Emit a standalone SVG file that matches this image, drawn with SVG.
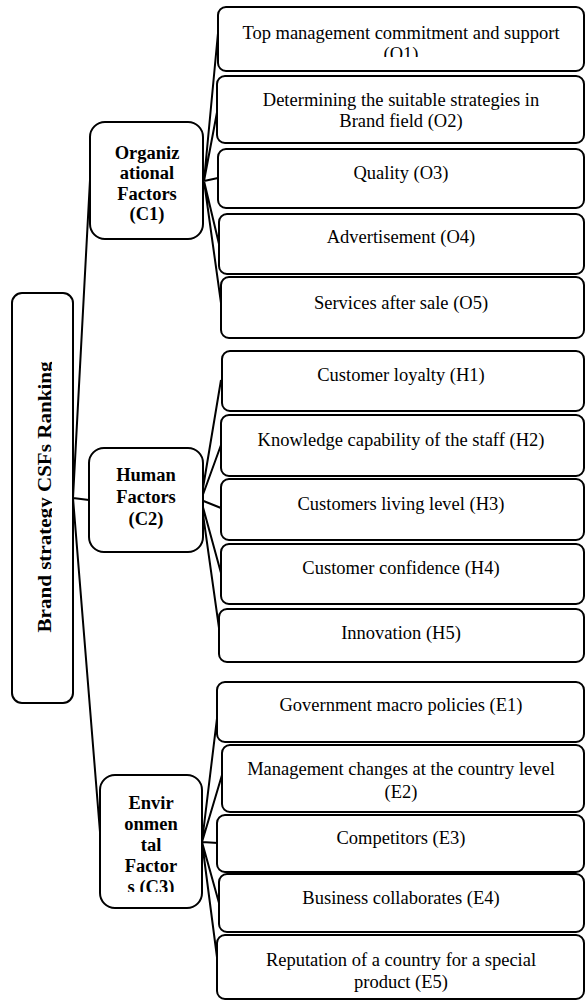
<svg xmlns="http://www.w3.org/2000/svg" width="586" height="1001" viewBox="0 0 586 1001">
<style>
.box{fill:#fff;stroke:#000;stroke-width:2}
.t{font-family:"Liberation Serif","Times New Roman",serif;font-size:18.5px;text-anchor:middle;fill:#000}
.b{font-weight:bold}
.c{stroke:#000;stroke-width:2;fill:none}
</style>
<defs>
<clipPath id="clipRoot"><rect x="30" y="290" width="22" height="420"/></clipPath>
<clipPath id="clipO1"><rect x="218" y="7" width="366" height="50"/></clipPath>
<clipPath id="clipC3"><rect x="100" y="775" width="102" height="117"/></clipPath>
</defs>
<rect width="586" height="1001" fill="#fff"/>
<g id="connectors">
<path class="c" d="M73,498 L90,180 M73,498 L89,500 M73,498 L100,832"/>
<path class="c" d="M204,181 L218,33 M204,181 L218,107 M204,181 L218,178 M204,181 L219,244 M204,181 L221,303"/>
<path class="c" d="M201,500 L221,380 M201,500 L221,445 M201,500 L221,508 M201,500 L221,573 M201,500 L220,635"/>
<path class="c" d="M202,842 L218,710 M202,842 L222,775 M202,842 L218,843 M202,842 L219,903 M202,842 L218,965"/>
</g>
<g id="root">
<rect class="box" x="12" y="293" width="61" height="410" rx="10"/>
<g clip-path="url(#clipRoot)">
<text class="t b" font-size="19.5" transform="translate(50.5,497) rotate(-90)" x="0" y="0" textLength="271" lengthAdjust="spacingAndGlyphs">Brand strategy CSFs Ranking</text>
</g>
</g>
<g id="C1">
<rect class="box" x="90" y="122" width="113" height="117" rx="15"/>
<text class="t b" x="147" y="159">Organiz</text>
<text class="t b" x="147" y="179">ational</text>
<text class="t b" x="147" y="200">Factors</text>
<text class="t b" x="147" y="220">(C1)</text>
</g>
<g id="C2">
<rect class="box" x="89" y="448" width="114" height="104" rx="15"/>
<text class="t b" x="146" y="481">Human</text>
<text class="t b" x="146" y="503">Factors</text>
<text class="t b" x="146" y="525">(C2)</text>
</g>
<g id="C3">
<rect class="box" x="100" y="775" width="102" height="133" rx="15"/>
<g clip-path="url(#clipC3)">
<text class="t b" x="151" y="809">Envir</text>
<text class="t b" x="151" y="830">onmen</text>
<text class="t b" x="151" y="851">tal</text>
<text class="t b" x="151" y="872">Factor</text>
<text class="t b" x="151" y="893">s (C3)</text>
</g>
</g>
<g id="O1">
<rect class="box" x="218" y="7" width="366" height="64" rx="8"/>
<g clip-path="url(#clipO1)">
<text class="t" x="401" y="39">Top management commitment and support</text>
<text class="t" x="401" y="60">(O1)</text>
</g>
</g>
<g id="O2">
<rect class="box" x="217" y="76" width="367" height="67" rx="8"/>
<text class="t" x="401" y="106">Determining the suitable strategies in</text>
<text class="t" x="401" y="127">Brand field (O2)</text>
</g>
<g id="O3">
<rect class="box" x="218" y="149" width="366" height="59" rx="8"/>
<text class="t" x="401" y="179">Quality (O3)</text>
</g>
<g id="O4">
<rect class="box" x="219" y="214" width="365" height="60" rx="8"/>
<text class="t" x="401" y="243">Advertisement (O4)</text>
</g>
<g id="O5">
<rect class="box" x="221" y="277" width="363" height="61" rx="8"/>
<text class="t" x="401" y="309">Services after sale (O5)</text>
</g>
<g id="H1">
<rect class="box" x="222" y="351" width="362" height="60" rx="8"/>
<text class="t" x="401" y="381">Customer loyalty (H1)</text>
</g>
<g id="H2">
<rect class="box" x="221" y="415" width="363" height="61" rx="8"/>
<text class="t" x="401" y="446">Knowledge capability of the staff (H2)</text>
</g>
<g id="H3">
<rect class="box" x="221" y="479" width="363" height="61" rx="8"/>
<text class="t" x="401" y="510">Customers living level (H3)</text>
</g>
<g id="H4">
<rect class="box" x="221" y="544" width="363" height="60" rx="8"/>
<text class="t" x="401" y="574">Customer confidence (H4)</text>
</g>
<g id="H5">
<rect class="box" x="219" y="609" width="365" height="53" rx="8"/>
<text class="t" x="401" y="639">Innovation (H5)</text>
</g>
<g id="E1">
<rect class="box" x="217" y="682" width="367" height="60" rx="8"/>
<text class="t" x="401" y="711">Government macro policies (E1)</text>
</g>
<g id="E2">
<rect class="box" x="222" y="745" width="362" height="67" rx="8"/>
<text class="t" x="401" y="775">Management changes at the country level</text>
<text class="t" x="401" y="798">(E2)</text>
</g>
<g id="E3">
<rect class="box" x="217" y="815" width="367" height="57" rx="8"/>
<text class="t" x="401" y="844">Competitors (E3)</text>
</g>
<g id="E4">
<rect class="box" x="219" y="874" width="365" height="58" rx="8"/>
<text class="t" x="401" y="904">Business collaborates (E4)</text>
</g>
<g id="E5">
<rect class="box" x="217" y="935" width="367" height="64" rx="8"/>
<text class="t" x="401" y="966">Reputation of a country for a special</text>
<text class="t" x="401" y="988">product (E5)</text>
</g>
</svg>
